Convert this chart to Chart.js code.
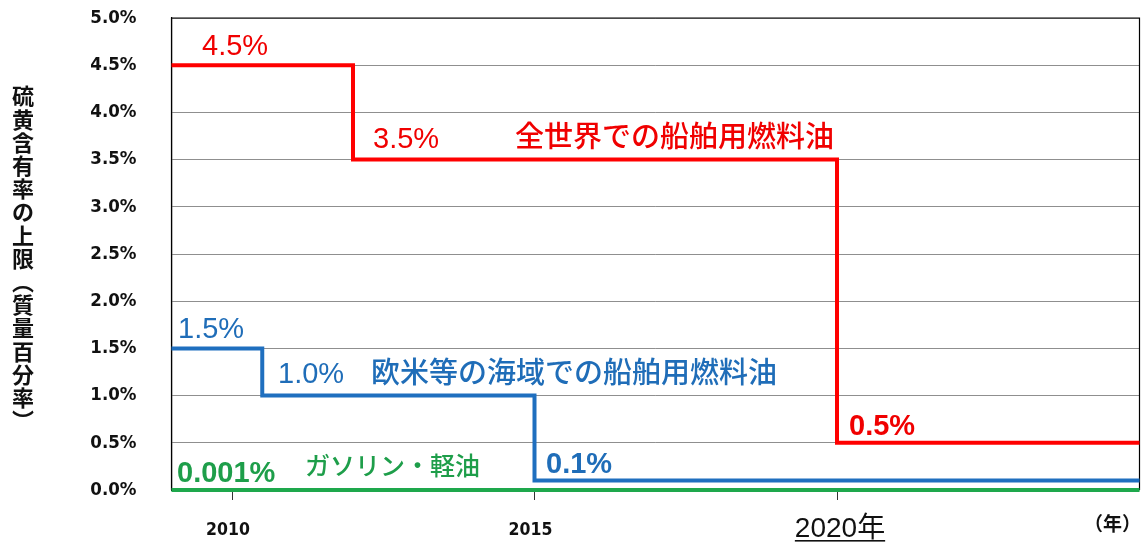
<!DOCTYPE html>
<html><head><meta charset="utf-8">
<script src="https://cdn.jsdelivr.net/npm/chart.js@4.4.1/dist/chart.umd.min.js"></script>
<style>html,body{margin:0;padding:0;background:#fff}#wrap{width:1145px;height:547px}</style>
</head><body><div id="wrap"><canvas id="c" width="1145" height="547"></canvas></div>
<script>
// ---- data ----
const globalYears = [2009, 2012, 2020, 2025];
const globalLimits = [4.5, 3.5, 0.5, 0.5];
const ecaYears = [2009, 2010.5, 2015, 2025];
const ecaLimits = [1.5, 1.0, 0.1, 0.1];
const gasolineYears = [2009, 2025];
const gasolineLimits = [0.001, 0.001];
const yTickValues = [0, 0.5, 1.0, 1.5, 2.0, 2.5, 3.0, 3.5, 4.0, 4.5, 5.0];
const xTickYears = [2010, 2015, 2020];
const xTickLabels = ['2010', '2015', '2020年'];
const yAxisTitle = ['硫','黄','含','有','率','の','上','限','︵','質','量','百','分','率','︶'];
const xAxisUnit = '（年）';

const RED = '#FF0000', BLUE = '#1F6FBF', GREEN = '#1EA84C';
const BLUE_T = '#1F6DB8', GREEN_T = '#1E9E4A', RED_T = '#F00000';
const CJK = '"Noto Sans CJK JP", sans-serif';
const LAT = '"Liberation Sans", Arial, sans-serif';
const TICKF = '"DejaVu Sans Condensed", "DejaVu Sans", sans-serif';

const pts = (xs, ys) => xs.map((x, i) => ({x: x, y: ys[i]}));

const annotations = [
  {t:'4.5%', x:202, y:55, font:'29px '+LAT, c:RED_T, base:'alphabetic'},
  {t:'3.5%', x:373, y:148, font:'29px '+LAT, c:RED_T, base:'alphabetic'},
  {t:'全世界での船舶用燃料油', x:515, y:136, font:'500 29px '+CJK, c:RED_T, base:'middle'},
  {t:'1.5%', x:178, y:338, font:'29px '+LAT, c:BLUE_T, base:'alphabetic'},
  {t:'1.0%', x:278, y:383, font:'29px '+LAT, c:BLUE_T, base:'alphabetic'},
  {t:'欧米等の海域での船舶用燃料油', x:371, y:372, font:'500 29px '+CJK, c:BLUE_T, base:'middle'},
  {t:'0.001%', x:177, y:482, font:'bold 29px '+LAT, c:GREEN_T, base:'alphabetic'},
  {t:'ガソリン・軽油', x:305, y:465, font:'500 25px '+CJK, c:GREEN_T, base:'middle'},
  {t:'0.1%', x:546, y:473, font:'bold 29px '+LAT, c:BLUE_T, base:'alphabetic'},
  {t:'0.5%', x:849, y:435, font:'bold 29px '+LAT, c:RED_T, base:'alphabetic'}
];

const framePlugin = {
  id: 'frame',
  beforeDatasetsDraw(chart) {
    const a = chart.chartArea, ctx = chart.ctx;
    ctx.save();
    ctx.strokeStyle = '#000'; ctx.lineWidth = 1.2;
    ctx.beginPath();
    ctx.moveTo(a.left, a.bottom); ctx.lineTo(a.left, a.top);
    ctx.lineTo(a.right, a.top); ctx.lineTo(a.right, a.bottom);
    ctx.stroke();
    ctx.restore();
  }
};

const textPlugin = {
  id: 'texts',
  afterDraw(chart) {
    const ctx = chart.ctx, xs = chart.scales.x;
    ctx.save();
    annotations.forEach(a => {
      ctx.font = a.font; ctx.fillStyle = a.c; ctx.textAlign = 'left'; ctx.textBaseline = a.base;
      ctx.fillText(a.t, a.x, a.y);
    });
    ctx.fillStyle = '#111'; ctx.font = 'bold 22px ' + CJK; ctx.textAlign = 'center'; ctx.textBaseline = 'middle';
    yAxisTitle.forEach((ch, i) => ctx.fillText(ch, 23, 96 + i * 23.2));
    xTickYears.forEach((yr, i) => {
      const px = xs.getPixelForValue(yr);
      ctx.fillStyle = '#111'; ctx.textAlign = 'center'; ctx.textBaseline = 'alphabetic';
      if (i < 2) {
        ctx.font = 'bold 17.5px ' + TICKF;
        ctx.fillText(xTickLabels[i], px - 4, 535);
      } else {
        ctx.font = '28px "Liberation Sans", "Noto Sans CJK JP", sans-serif';
        const w = ctx.measureText(xTickLabels[i]).width;
        ctx.fillText(xTickLabels[i], px + 3, 537);
        ctx.fillRect(px + 3 - w / 2, 540, w, 1.6);
      }
    });
    ctx.font = 'bold 19px ' + CJK; ctx.textAlign = 'left'; ctx.textBaseline = 'middle'; ctx.fillStyle = '#111';
    ctx.fillText(xAxisUnit, 1084, 524);
    ctx.restore();
  }
};

new Chart(document.getElementById('c'), {
  type: 'line',
  data: {
    datasets: [
      {label: 'gasoline', data: pts(gasolineYears, gasolineLimits), stepped: 'before', borderColor: GREEN, borderWidth: 4, pointRadius: 0, fill: false, clip: false},
      {label: 'eca', data: pts(ecaYears, ecaLimits), stepped: 'before', borderColor: BLUE, borderWidth: 4, pointRadius: 0, fill: false, clip: false},
      {label: 'global', data: pts(globalYears, globalLimits), stepped: 'before', borderColor: RED, borderWidth: 4, pointRadius: 0, fill: false, clip: false}
    ]
  },
  options: {
    responsive: false, animation: false, devicePixelRatio: 1,
    layout: {padding: {top: 18, right: 5.5, left: 0, bottom: 0}},
    plugins: {legend: {display: false}, tooltip: {enabled: false}},
    scales: {
      x: {
        type: 'linear', min: 2009, max: 2025,
        afterBuildTicks: s => { s.ticks = xTickYears.map(v => ({value: v})); },
        ticks: {display: false},
        grid: {drawOnChartArea: false, drawTicks: true, tickLength: 10, color: '#333', lineWidth: 1},
        border: {display: false},
        afterFit: s => { s.height = 57; s.paddingLeft = 0; s.paddingRight = 0; }
      },
      y: {
        min: 0, max: 5,
        afterBuildTicks: s => { s.ticks = yTickValues.map(v => ({value: v})); },
        ticks: {callback: v => Number(v).toFixed(1) + '%', font: {family: TICKF, weight: 'bold', size: 18.5}, color: '#111', padding: 35},
        grid: {color: '#8f8f8f', lineWidth: 1, drawTicks: false},
        border: {display: true, color: '#000', width: 1.2},
        afterFit: s => { s.width = 171.5; s.paddingTop = 0; s.paddingBottom = 0; }
      }
    }
  },
  plugins: [framePlugin, textPlugin]
});
</script></body></html>
